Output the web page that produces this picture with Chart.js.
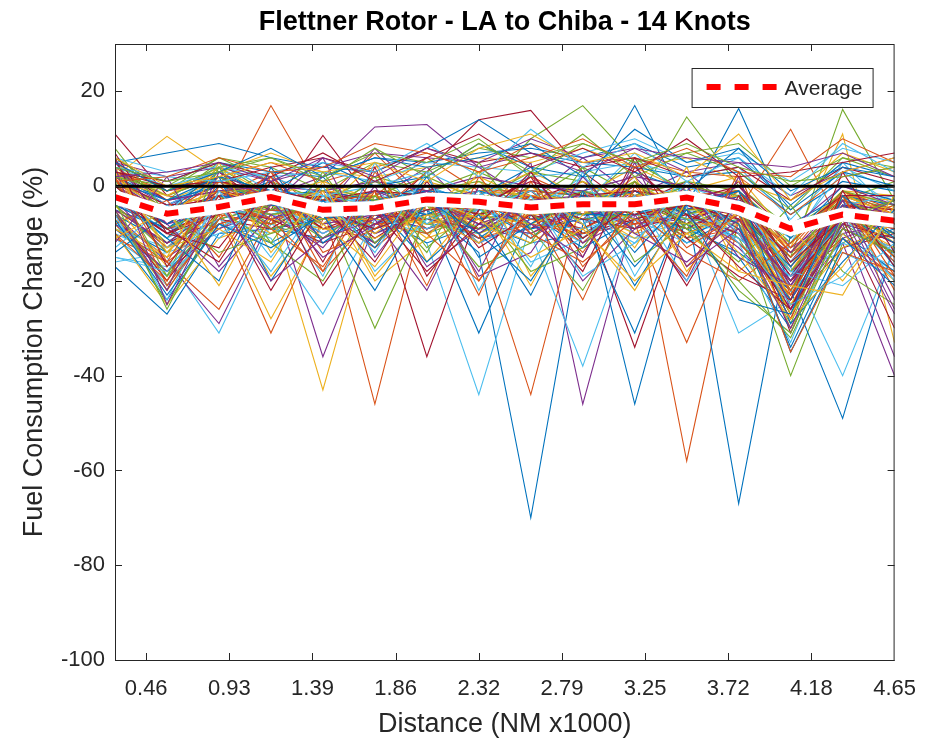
<!DOCTYPE html>
<html>
<head>
<meta charset="utf-8">
<title>Flettner Rotor - LA to Chiba - 14 Knots</title>
<script src="https://cdn.jsdelivr.net/npm/chart.js@4.4.1/dist/chart.umd.min.js"></script>
<style>
  html, body { margin: 0; padding: 0; background: #fff; }
  #wrap { width: 932px; height: 739px; }
</style>
</head>
<body>
<div id="wrap"><canvas id="fuelChart" width="932" height="739"></canvas></div>
<script>
// distance along the route (NM x1000), one sample per leg
const xDistance = [0.2906, 0.5813, 0.8719, 1.1625, 1.4531, 1.7438, 2.0344, 2.325,
                   2.6156, 2.9063, 3.1969, 3.4875, 3.7781, 4.0688, 4.3594, 4.65];
const xTickValues = [0.465, 0.93, 1.395, 1.86, 2.325, 2.79, 3.255, 3.72, 4.185, 4.65];
const xTickLabels = ['0.46', '0.93', '1.39', '1.86', '2.32', '2.79', '3.25', '3.72', '4.18', '4.65'];
const yTickValues = [-100, -80, -60, -40, -20, 0, 20];

// mean change over all voyages
const averageChange = [-2.3, -5.8, -4.4, -2.3, -5, -4.6, -2.8, -3.3, -4.5, -3.8, -3.8, -2.4, -4.6, -9, -6, -7.3];

// fuel consumption change (%) per simulated voyage
const voyageRuns = [
  [-6, -12, -4, -8, 2, -10, -5, -14, -70, -8, -3, -12, -6, -20, -9, -14],
  [-3, -8, -2, 3, -6, -12, -4, -9, -5, -11, -2, -58, -7, -18, -4, -10],
  [2, 10.5, 3, -5, -7, -8, -2, -10, -6, -4, 1, -9, -3, -14, -5, -8],
  [-4, -9, -6, -2, -11, -3, 4, -7, 5, -46, -6, -3, -12, -22, -7, -12],
  [1, -6, 4, -3, -9, -7, -1, 3, -2, -4, 6, -2, -8, -40, -12, -6],
  [-15, -17, -8, -10, -4, -6, -12, -44, -8, -3, -9, -5, -12, -20, -6, -16],
  [11, -2, 2, -4, -1, -3, -8, -6, 0, -5, -4, 1, -4, -15, -3, -8],
  [-8, -14, -3, 1, -7, -2, -9, -4, -11, -2, -7, -4, -67, -10, -5, -11],
  [-2, -10, -5, -1, -4, -46, -3, -8, 2, -6, -1, -7, -3, -24, -2, -15],
  [-5, -20, -1, -6, -43, -4, -8, 1, -7, -9, -3, -11, -1, -18, -8, -4],
  [3, -4, 1, -2, 2, 12.5, 13, 4, -3, 6, -2, 3, -6, -12, -1, -7],
  [-7, -22, -6, -3, -5, 1, -4, -2, 10, 17, 5, -1, -5, -25, -9, -3],
  [-10, -15, -31, -8, -12, -5, -2, -6, -9, -4, -10, -8, -2, -16, -11, -18],
  [-1, -7, -3, 2, -8, -1, -36, -5, -3, 1, -8, -2, -9, -28, -4, -6],
  [-9, -18, -7, -4, -2, -8, -6, -11, -4, -7, -5, -9, -14, -22, -49, -12],
  [0, -5, -9, -3, -1, -6, 0, -10, -44, -2, -6, -4, -8, -20, -7, -9],
  [-3, -11, 2, -1, -5, -9, -3, -6, -1, -8, -2, -6, -4, -13, 11, -33],
  [-6, -16, -29, -7, -3, -10, -6, -12, -7, -3, -9, -1, -10, -26, -5, -11],
  [4, -3, 5, -2, -6, -2, 2, -3, 3, 1, -4, 14.6, 0, -9, -2, -5],
  [-4, -13, -2, -6, -9, -7, -10, -3, -6, -12, -3, -10, -7, -17, -40, -13],
  [6, -1, 3, -5, 10.7, -4, -1, -7, -2, -6, 0, -5, -2, -21, -6, -9],
  [-5, -9, -1, -7, -3, -12, -2, -5, -8, -1, -46, -6, -11, -19, -3, -17],
  [3, -2, -4, 17, -2, -5, -7, -1, -10, -5, -3, -8, -1, -14, -8, -4],
  [-8, -21, -5, -28, -8, -3, -11, -7, -2, -10, -6, -2, -9, -23, -4, -12],
  [1, -6, -3, -1, -36, -8, -4, -9, -5, -7, 2, -9, -3, -18, -10, -8],
  [-2, -12, -4, -5, -2, -9, -5, -4, -6, -3, -7, -3, -6, -15, 16.2, -3],
  [-11, -19, -9, -2, -6, -1, -8, -10, -3, -7, -11, -4, -31, -24, -6, -14],
  [2, -5, -2, -6, -4, -7, 3, 14, 16, 3, -5, -3, -8, -27, -7, -10],
  [-17, -27, -10, -9, -11, -6, -12, -8, -12, -10, -4, -11, -5, -35, -13, -9],
  [-1, -9, -6, -31, -7, -2, -9, -6, -4, -12, -1, -6, -10, -21, -3, -7],
  [5, -3, 1, -3, -1, -5, 1, -2, 3, -2, 4, -1, 2, -11, -1, -2],
  [-7, -15, -8, -4, -10, -4, -3, -11, -9, -5, -8, -7, -4, -19, -12, -40],
  [-3, -11, -2, -8, -4, -30, -6, -5, -1, -8, -2, -4, -6, -22, -5, -11],
  [-16, -14, -10, -5, -8, -3, -7, -9, -10, -38, -7, -12, -9, -18, -14, -19],
  [0, -8, -1, -3, -6, -2, -5, -3, -7, -4, -34, -3, -1, -16, -2, -6],
  [5, 7, 9, 6, 4, 3, 8, 14, 7, 5, 4, 2, 3, -6, 1, -1],
  [-4, -13, -5, -2, -9, -7, -2, -12, -3, -6, -5, -10, -5, 12, -9, -13],
  [-2, -7, -3, -10, -2, -6, -8, -4, -5, 1, -4, -2, -7, -20, -3, -5],
  [2, -4, 0, -2, -5, 8, -3, -1, -2, -6, 3, -5, 0, -13, -6, -3],
  [-6, -19, -5, -1, -7, -4, -10, -6, -8, -2, -9, -1, -11, -29, -4, -15],
  [-1, -10, -2, -4, -3, -8, -1, -7, 0, -4, 7, -3, -5, -12, 5, -6],
  [-5, -12, -7, -9, -2, -11, -4, -2, -6, -9, -3, -8, -2, -31, -7, -12],
  [1, -5, 3, -2, -1, -3, 0, -4, -1, -2, 17, -4, 16.4, -8, -2, -4],
  [-9, -16, -26, -6, -4, -8, -7, -3, -11, -4, -8, -6, -12, -23, -5, -16],
  [3, -6, 2, -4, -8, -1, -2, -8, -4, -3, -1, -7, -3, -17, -1, -9],
  [-3, -14, -4, -7, -2, -6, -9, -5, -2, -11, -2, -4, -8, -26, -11, -7],
  [6, -1, 6, 1, -3, 2, -1, 1, -3, 4, -2, 1, -1, -10, -3, 1],
  [-7, -21, -6, -3, -10, -5, -3, -12, -7, -6, -12, -5, -10, -21, -9, -13],
  [4, -3, -1, -5, -1, -4, -6, -2, -9, -1, -5, -9, -4, -19, -4, -5],
  [-10, -24, -8, -12, -6, -9, -5, -31, -6, -13, -7, -8, -15, -30, -10, -18],
  [1, -7, -2, -1, -3, 7, -4, -5, 2, -3, 0, -2, -3, -14, -1, -6],
  [-4, -17, -3, -6, -5, -10, -2, -9, -6, -5, -10, -3, -6, -24, -6, -11],
  [0, -8, -5, 2, -7, -1, -5, -3, -4, -8, -1, -6, -2, -16, -4, -8],
  [-5, -25, -7, -4, -11, -3, -8, -10, -5, -7, -6, -9, -7, -27, -8, -14],
  [3, -4, 1, -7, -4, -2, -6, -1, -3, -1, -3, 0, -4, -11, 3, -4],
  [-2, -10, -4, -1, -9, -5, -1, -6, -1, -10, -7, -4, -6, -25, -13, -10],
  [-3, -11, 0, -3, -4, -1, -3, -7, -5, -3, -1, -6, -2, -20, -7, -8],
  [-6, -22, -6, -8, -2, -8, -10, -4, -7, -9, -4, -11, -9, -28, -5, -15],
  [4, -2, 4, -2, 1, -3, -4, 2, -3, 0, -2, -1, -5, -12, -2, -3],
  [-8, -18, -9, -5, -6, -12, -3, -8, -10, -4, -9, -5, -13, -24, -8, -36],
  [2, -5, -1, -1, -5, -4, -2, -6, 0, -5, 1, -6, -3, -15, -3, -7],
  [-9, -13, -7, -11, -27, -7, -9, -5, -8, -9, -6, -7, -8, -22, -12, -17],
  [1, -4, -3, -4, -2, -6, -7, -9, -2, -6, -2, -8, 1, -17, -5, -9],
  [-4, -9, -3, -9, -7, -5, -4, -3, -9, -7, -31, -3, -9, -24, -6, -12],
  [2, -6, 1, -2, -3, -2, 6, -1, -1, -2, -3, -2, -1, -13, -1, -5],
  [-10, -25, -11, -7, -9, -11, -6, -7, -12, -5, -11, -10, -6, -30, -10, -20],
  [-1, -8, -2, -3, -1, -7, -1, -10, -3, -2, -4, -1, -7, -14, -3, -6],
  [-4, -14, -3, -9, -6, -2, -7, -3, -6, -11, -3, -8, -4, -22, -7, -10],
  [0, -6, 5, -1, -2, -4, 0, -4, -5, 2, -6, -3, -3, -16, -4, -2],
  [-6, -20, -5, -7, -12, -8, -3, -6, -3, -7, -9, -6, -10, -26, -9, -14],
  [2, -3, 0, 0, -4, -3, -1, -2, 4, -4, -1, -5, -1, -11, 0, -3],
  [-11, -16, -8, -5, -6, -13, -4, -11, -8, -10, -8, -33, -7, -20, -11, -19],
  [1, -5, -1, -4, -1, -2, -5, -1, -2, -3, 0, -4, -2, -18, -2, -6],
  [-5, -12, -4, -2, -8, -6, -2, -8, -4, -6, -5, -2, -5, -21, -6, -9],
  [3, -2, 2, -5, 0, -3, -3, 0, -6, -1, -4, 0, -2, -12, -1, -4],
  [-3, -11, -5, -6, -3, -9, -5, -5, -1, -8, -2, -7, -11, -19, -8, -11],
  [5, -1, 1, -1, -3, -1, -2, -4, 1, -2, -1, -3, 0, -10, -2, -2],
  [-2, -8, -2, -4, -5, -4, -6, -1, -4, -6, -6, -2, -6, -17, -4, -10],
  [0, -6, -3, -7, -4, -5, -3, -7, -2, -5, -2, -5, -4, -15, -5, -8],
  [-7, -15, -6, -3, -7, -7, -8, -6, -8, -4, -7, -8, -8, -25, -7, -13],
  [3, -3, -1, 0, -1, 1, -1, 2, 0, -1, 2, 0, -3, -9, 0, -4],
  [-1, -9, -4, -6, -4, -5, -4, -9, -3, -6, -3, -5, -5, -18, -6, -7],
  [4, 0, 3, 2, -2, 0, 3, -2, 2, 3, 5, 2, 4, -7, 4, -1],
  [-3, -10, -6, -2, -5, -9, -5, -4, -5, -3, -6, -4, -7, -20, -8, -11],
  [4, 1, 5, 3, 2, 6, 5, 7, 8, 6, 9, 4, 6, -4, 5, 2],
  [3, -1, 2, 5, 1, 4, 7, 3, 9, 5, 6, 3, 2, -6, 2, 4],
  [1, -2, 3, 7, 3, 2, 4, 6, 5, 8, 4, 6, 1, -3, 7, 3],
  [5, 2, 4, 1, 4, 7, 6, 5, 10, 6, 8, 3, 5, -2, 3, 6],
  [2, 0, 6, 4, -1, 5, 3, 8, 6, 9, 5, 7, 3, -5, 6, 2],
  [6, 3, 4, 2, 3, 1, 5, 4, 3, 7, 10, 5, 7, 1, 8, 5],
  [3, 0, 1, 4, 6, 3, 8, 5, 7, 4, 6, 2, 4, -3, 4, 1],
  [1, -3, 2, -1, 5, 0, 2, 9, 4, 2, 3, -1, 8, -5, 3, 0],
  [-8, -3, -15, 2, -18, -6, 3, -20, -4, -14, 1, -17, -5, -22, -2, -19],
  [4, -14, -2, -19, -5, 5, -16, -3, -21, -1, -13, 4, -18, -9, -20, -6],
  [-12, 2, -17, -4, 6, -15, -1, -18, 3, -12, -6, -20, 2, -26, -8, -3],
  [1, -19, 4, -12, -20, -2, -14, 5, -9, -22, -3, -7, -16, -4, -18, -25],
  [-6, -24, -1, -15, 0, -18, -7, -2, -17, 3, -19, -1, -12, -33, -6, -20],
  [7, -10, -13, 1, -16, 4, -19, -5, 2, -15, 6, -11, -19, -24, 3, -14],
  [-14, -6, 2, -20, -3, -13, 2, -15, -8, -2, -21, -4, -1, -29, -16, -5],
  [2, -21, -7, 3, -14, -9, -2, -23, 1, -17, -5, -14, -20, -12, -2, -22],
  [-9, -15, 5, -14, -1, -20, -11, 3, -19, -6, 2, -18, -5, -27, -13, -8],
  [5, -8, -18, -6, -13, 0, -17, -9, -3, -20, -9, 0, -15, -21, -4, -26],
  [-3, -26, -5, -12, 3, -12, -4, -17, -12, 4, -16, -8, -22, -31, -7, -3],
  [-13, -4, -11, -2, -19, 5, -8, -1, -16, -11, -2, -20, -3, -18, -21, -12],
  [6, -17, -2, -22, -4, -16, 1, -13, -6, -18, 4, -6, -17, -26, -1, -17],
  [-2, -11, -20, 4, -12, -4, -16, -6, -23, -1, -14, -2, -8, -34, -11, -21],
  [-10, -20, 0, -9, -17, -1, -21, 2, -10, -16, -7, -19, 3, -23, -5, -9],
  [3, -13, -9, -16, 1, -19, -6, -12, 0, -8, -22, -3, -14, -28, -17, -2],
  [-5, -22, 3, -3, -15, -8, -1, -19, -14, 2, -10, -16, -7, -20, -3, -24],
  [8, -6, -14, -10, -7, 2, -13, -4, -18, -13, 1, -9, -20, -32, -9, -14],
  [-15, -18, -4, -18, -2, -14, 3, -22, -2, -19, -12, 1, -10, -25, -19, -6],
  [0, -9, -16, 1, -21, -5, -18, -8, 3, -11, -4, -21, -2, -16, -7, -30],
  [-7, -23, -8, -13, -6, -22, -3, -10, -20, -3, -17, -5, -24, -27, -2, -11],
  [2, -16, 1, -7, -18, 3, -10, -20, -5, -24, 0, -13, -6, -35, -14, -18],
  [-11, -5, -21, -1, -8, -17, -2, -7, -15, -9, -20, -10, -18, -21, -23, -4],
  [4, -25, -3, -20, -11, -7, -22, 0, -8, -15, 5, -17, -9, -30, -6, -27],
  [2, -1, 4, 6, 1, 8, 2, 9, 3, 11, 2, 7, 9, 0, 6, 4],
  [4, 2, 1, 3, 5, 3, 9, 2, 12, 4, 9, 1, 6, -2, 9, 3],
  [3, 1, 5, 2, 7, 1, 6, 11, 4, 8, 3, 10, 2, 3, 5, 7],
  [5, -1, 3, 8, 2, 6, 4, 6, 9, 2, 12, 5, 8, -1, 4, 2],
  [1, 2, 6, 3, 4, 9, 7, 3, 6, 10, 4, 8, 3, 2, 10, 5],
  [6, 0, 2, 5, 3, 5, 1, 8, 11, 5, 7, 2, 11, -3, 3, 6],
  [2, 3, 5, 1, 6, 2, 8, 4, 7, 3, 8, 6, 5, 4, 7, 2],
  [4, 1, 3, 6, 2, 7, 5, 10, 2, 9, 5, 9, 4, 1, 2, 4]
];

// matlab default line colour order
const lineColors = ['#0072BD', '#D95319', '#EDB120', '#7E2F8E', '#77AC30', '#4DBEEE', '#A2142F'];

const FONT = "Arial, 'Liberation Sans', Helvetica, sans-serif";
const AXIS_COLOR = '#262626';

function toPoints(values) {
  return xDistance.map((x, i) => ({ x: x, y: values[i] }));
}

const datasets = [
  {
    label: 'Average',
    data: toPoints(averageChange),
    borderColor: '#FF0000',
    borderWidth: 6,
    borderDash: [14, 12],
    borderCapStyle: 'butt',
    order: 0
  },
  {
    label: 'avgBand',
    data: toPoints(averageChange),
    borderColor: '#FFFFFF',
    borderWidth: 14,
    order: 1
  }
];
voyageRuns.forEach((run, k) => {
  datasets.push({
    label: 'Run ' + (k + 1),
    data: toPoints(run),
    borderColor: lineColors[k % lineColors.length],
    borderWidth: 1.1,
    order: 2 + voyageRuns.length - k
  });
});

// zero reference, inward ticks, axes box and legend
const axesDecor = {
  id: 'axesDecor',
  beforeDatasetDraw(chart, args) {
    if (args.index !== 1) return;
    const { ctx, chartArea } = chart;
    const y0 = chart.scales.y.getPixelForValue(0);
    ctx.save();
    ctx.strokeStyle = '#000';
    ctx.lineWidth = 3;
    ctx.beginPath();
    ctx.moveTo(chartArea.left, y0);
    ctx.lineTo(chartArea.right, y0);
    ctx.stroke();
    ctx.restore();
  },
  afterDraw(chart) {
    const { ctx, chartArea: a, scales } = chart;
    const tick = 7;
    ctx.save();
    ctx.strokeStyle = AXIS_COLOR;
    ctx.lineWidth = 1;
    ctx.strokeRect(a.left + 0.5, a.top + 0.5, a.right - a.left - 1, a.bottom - a.top);
    ctx.beginPath();
    xTickValues.forEach(v => {
      const px = Math.round(scales.x.getPixelForValue(v)) + 0.5;
      if (px >= a.right - 1) return;
      ctx.moveTo(px, a.bottom); ctx.lineTo(px, a.bottom - tick);
      ctx.moveTo(px, a.top); ctx.lineTo(px, a.top + tick);
    });
    yTickValues.forEach(v => {
      const py = Math.round(scales.y.getPixelForValue(v)) + 0.5;
      ctx.moveTo(a.left, py); ctx.lineTo(a.left + tick, py);
      ctx.moveTo(a.right, py); ctx.lineTo(a.right - tick, py);
    });
    ctx.stroke();

    // legend box, top right inside the axes
    const bw = 181, bh = 39;
    const bx = a.right - 22 - bw, by = a.top + 24;
    ctx.fillStyle = '#fff';
    ctx.fillRect(bx, by, bw, bh);
    ctx.strokeRect(bx + 0.5, by + 0.5, bw, bh);
    ctx.strokeStyle = '#FF0000';
    ctx.lineWidth = 6;
    ctx.setLineDash([14, 14]);
    ctx.beginPath();
    ctx.moveTo(bx + 15, by + 19);
    ctx.lineTo(bx + 85, by + 19);
    ctx.stroke();
    ctx.setLineDash([]);
    ctx.fillStyle = AXIS_COLOR;
    ctx.font = '21px ' + FONT;
    ctx.textBaseline = 'middle';
    ctx.textAlign = 'left';
    ctx.fillText('Average', bx + 93, by + 21);
    ctx.restore();
  }
};

new Chart(document.getElementById('fuelChart'), {
  type: 'line',
  data: { datasets: datasets },
  options: {
    responsive: false,
    animation: false,
    events: [],
    layout: { padding: { left: 0, right: 37, top: 0, bottom: 0 } },
    elements: {
      point: { radius: 0 },
      line: { tension: 0, fill: false, borderJoinStyle: 'miter' }
    },
    plugins: {
      legend: { display: false },
      tooltip: { enabled: false },
      title: {
        display: true,
        fullSize: false,
        text: 'Flettner Rotor - LA to Chiba - 14 Knots',
        color: '#000',
        font: { family: FONT, size: 27, weight: 'bold', lineHeight: 1 },
        padding: { top: 9, bottom: 8 }
      }
    },
    scales: {
      x: {
        type: 'linear',
        min: xDistance[0],
        max: xDistance[xDistance.length - 1],
        afterBuildTicks(scale) {
          scale.ticks = xTickValues.map(v => ({ value: v }));
        },
        afterFit(scale) { scale.height = 79; },
        grid: { display: false, drawTicks: false },
        border: { display: false },
        ticks: {
          autoSkip: false,
          maxRotation: 0,
          padding: 16,
          color: AXIS_COLOR,
          font: { family: FONT, size: 22 },
          callback: (value, index) => xTickLabels[index]
        },
        title: {
          display: true,
          text: 'Distance (NM x1000)',
          color: AXIS_COLOR,
          font: { family: FONT, size: 27, lineHeight: 1 },
          padding: { top: 0, bottom: 1 }
        }
      },
      y: {
        type: 'linear',
        min: -100,
        max: 30,
        afterBuildTicks(scale) {
          scale.ticks = yTickValues.map(v => ({ value: v }));
        },
        afterFit(scale) { scale.width = 115; },
        grid: { display: false, drawTicks: false },
        border: { display: false },
        ticks: {
          padding: 10,
          color: AXIS_COLOR,
          font: { family: FONT, size: 22 }
        },
        title: {
          display: true,
          text: 'Fuel Consumption Change (%)',
          color: AXIS_COLOR,
          font: { family: FONT, size: 27, lineHeight: 1 },
          padding: { top: 21, bottom: 0 }
        }
      }
    }
  },
  plugins: [axesDecor]
});
</script>
</body>
</html>
